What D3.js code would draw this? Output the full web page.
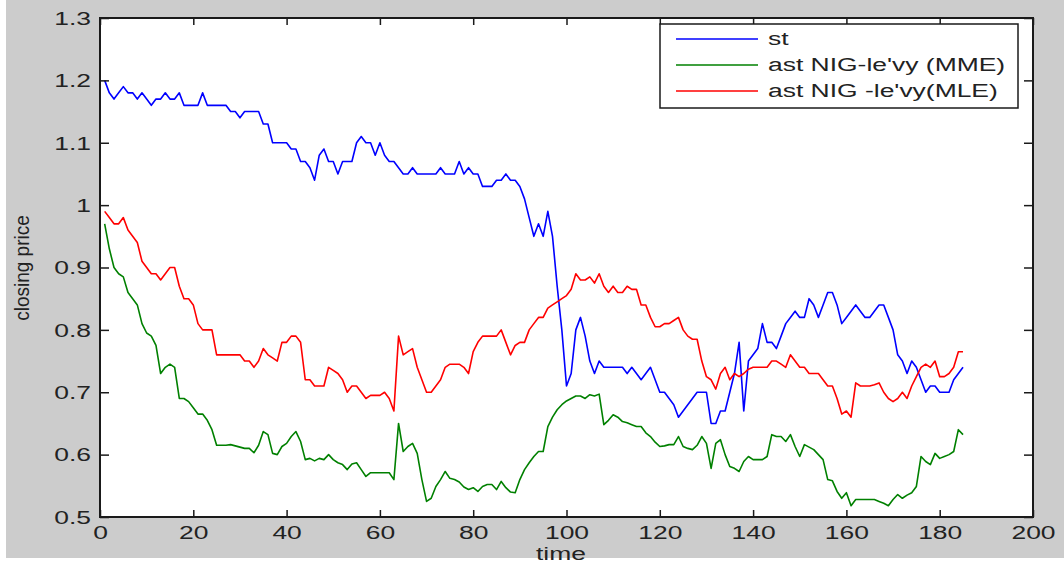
<!DOCTYPE html>
<html>
<head>
<meta charset="utf-8">
<script src="https://cdn.jsdelivr.net/npm/d3@7"></script>
<style>
  body { margin: 0; background: #fff; }
  svg { display: block; }
</style>
</head>
<body>
<svg id="chart"></svg>
<script>
'use strict';

// tick values
const xTicks = [0, 20, 40, 60, 80, 100, 120, 140, 160, 180, 200];
const yTicks = [0.5, 0.6, 0.7, 0.8, 0.9, 1, 1.1, 1.2, 1.3];

// legend names
const seriesNames = ["st", "ast NIG-le'vy (MME)", "ast NIG -le'vy(MLE)"];

// closing price, time = 1..185
const stValues = [
  1.20, 1.18, 1.17, 1.18, 1.19, 1.18, 1.18, 1.17, 1.18, 1.17,
  1.16, 1.17, 1.17, 1.18, 1.17, 1.17, 1.18, 1.16, 1.16, 1.16,
  1.16, 1.18, 1.16, 1.16, 1.16, 1.16, 1.16, 1.15, 1.15, 1.14,
  1.15, 1.15, 1.15, 1.15, 1.13, 1.13, 1.10, 1.10, 1.10, 1.10,
  1.09, 1.09, 1.07, 1.07, 1.06, 1.04, 1.08, 1.09, 1.07, 1.07,
  1.05, 1.07, 1.07, 1.07, 1.10, 1.11, 1.10, 1.10, 1.08, 1.10,
  1.08, 1.07, 1.07, 1.06, 1.05, 1.05, 1.06, 1.05, 1.05, 1.05,
  1.05, 1.05, 1.06, 1.05, 1.05, 1.05, 1.07, 1.05, 1.06, 1.05,
  1.05, 1.03, 1.03, 1.03, 1.04, 1.04, 1.05, 1.04, 1.04, 1.03,
  1.01, 0.98, 0.95, 0.97, 0.95, 0.99, 0.95, 0.87, 0.80, 0.71,
  0.73, 0.80, 0.82, 0.79, 0.75, 0.73, 0.75, 0.74, 0.74, 0.74,
  0.74, 0.74, 0.73, 0.74, 0.73, 0.72, 0.73, 0.74, 0.72, 0.70,
  0.70, 0.69, 0.68, 0.66, 0.67, 0.68, 0.69, 0.70, 0.70, 0.70,
  0.65, 0.65, 0.67, 0.67, 0.70, 0.73, 0.78, 0.67, 0.75, 0.76,
  0.77, 0.81, 0.78, 0.78, 0.77, 0.79, 0.81, 0.82, 0.83, 0.82,
  0.82, 0.85, 0.84, 0.82, 0.84, 0.86, 0.86, 0.84, 0.81, 0.82,
  0.83, 0.84, 0.83, 0.82, 0.82, 0.83, 0.84, 0.84, 0.82, 0.80,
  0.76, 0.75, 0.73, 0.75, 0.74, 0.72, 0.70, 0.71, 0.71, 0.70,
  0.70, 0.70, 0.72, 0.73, 0.74
];

const mmeValues = [
  0.97, 0.93, 0.90, 0.89, 0.885, 0.86, 0.85, 0.84, 0.81, 0.795,
  0.79, 0.775, 0.73, 0.74, 0.745, 0.74, 0.69, 0.69, 0.685, 0.675,
  0.665, 0.665, 0.655, 0.64, 0.615, 0.615, 0.615, 0.616, 0.614, 0.612,
  0.61, 0.61, 0.603, 0.615, 0.637, 0.632, 0.602, 0.60, 0.613, 0.618,
  0.629, 0.637, 0.621, 0.592, 0.594, 0.59, 0.594, 0.592, 0.60, 0.592,
  0.587, 0.584, 0.576, 0.585, 0.587, 0.576, 0.565, 0.571, 0.571, 0.571,
  0.571, 0.571, 0.56, 0.65, 0.605, 0.613, 0.618, 0.602, 0.56, 0.525,
  0.53, 0.549, 0.56, 0.573, 0.562, 0.56, 0.556, 0.548, 0.544, 0.547,
  0.541, 0.549, 0.552, 0.552, 0.544, 0.557, 0.547, 0.54, 0.539, 0.56,
  0.576, 0.587, 0.597, 0.605, 0.605, 0.645, 0.66, 0.672, 0.68, 0.686,
  0.69, 0.694, 0.694, 0.69, 0.696, 0.694, 0.697, 0.648, 0.655, 0.664,
  0.66, 0.653, 0.651, 0.648, 0.645, 0.645, 0.635, 0.629, 0.62, 0.613,
  0.614, 0.616, 0.616, 0.629, 0.613, 0.61, 0.608, 0.615, 0.629, 0.618,
  0.578, 0.618, 0.624, 0.60, 0.581, 0.578, 0.573, 0.589, 0.597, 0.592,
  0.592, 0.592, 0.597, 0.632, 0.629, 0.629, 0.621, 0.632, 0.613, 0.597,
  0.616, 0.612, 0.608, 0.60, 0.592, 0.56, 0.558, 0.541, 0.53, 0.539,
  0.518, 0.528, 0.528, 0.528, 0.528, 0.528, 0.525, 0.522, 0.518, 0.528,
  0.536, 0.53, 0.535, 0.539, 0.549, 0.597, 0.589, 0.584, 0.602, 0.594,
  0.597, 0.60, 0.605, 0.64, 0.632
];

const mleValues = [
  0.99, 0.98, 0.97, 0.97, 0.98, 0.96, 0.95, 0.94, 0.91, 0.90,
  0.89, 0.89, 0.88, 0.89, 0.90, 0.90, 0.87, 0.85, 0.85, 0.84,
  0.81, 0.80, 0.80, 0.80, 0.76, 0.76, 0.76, 0.76, 0.76, 0.76,
  0.75, 0.75, 0.74, 0.75, 0.77, 0.76, 0.755, 0.75, 0.78, 0.78,
  0.79, 0.79, 0.78, 0.72, 0.72, 0.71, 0.71, 0.71, 0.74, 0.735,
  0.73, 0.72, 0.70, 0.71, 0.71, 0.70, 0.69, 0.695, 0.695, 0.695,
  0.70, 0.69, 0.67, 0.79, 0.76, 0.765, 0.77, 0.74, 0.72, 0.70,
  0.70, 0.71, 0.72, 0.74, 0.745, 0.745, 0.745, 0.74, 0.73, 0.765,
  0.78, 0.79, 0.79, 0.79, 0.79, 0.80, 0.78, 0.76, 0.775, 0.78,
  0.78, 0.80, 0.81, 0.82, 0.82, 0.835, 0.84, 0.845, 0.85, 0.855,
  0.865, 0.89, 0.88, 0.88, 0.885, 0.875, 0.89, 0.87, 0.86, 0.87,
  0.86, 0.86, 0.87, 0.865, 0.865, 0.84, 0.84, 0.82, 0.805, 0.805,
  0.81, 0.81, 0.815, 0.82, 0.80, 0.79, 0.785, 0.785, 0.75, 0.725,
  0.72, 0.705, 0.73, 0.74, 0.72, 0.73, 0.725, 0.73, 0.737, 0.74,
  0.74, 0.74, 0.74, 0.75, 0.75, 0.745, 0.74, 0.76, 0.75, 0.74,
  0.74, 0.73, 0.73, 0.73, 0.72, 0.71, 0.71, 0.69, 0.665, 0.67,
  0.66, 0.715, 0.71, 0.71, 0.71, 0.712, 0.715, 0.70, 0.69, 0.685,
  0.69, 0.70, 0.69, 0.71, 0.725, 0.74, 0.745, 0.74, 0.75, 0.725,
  0.725, 0.73, 0.74, 0.765, 0.765
];

// layout & style
const CONFIG = {
  width: 1064,
  height: 569,
  frame: { x: 6, y: 0, w: 1058, h: 558 },
  plot: { left: 100, top: 18, right: 1033, bottom: 517 },
  stretch: 1.47,          // picture is widened horizontally
  fontSize: 18,
  textColor: "#222",
  axisColor: "#1a1a1a",
  colors: ["#0000ff", "#008000", "#ff0000"],
  legend: { x: 660, y: 24, w: 358, h: 84, row0: 39, rowStep: 26, lineX1: 676, lineX2: 758, textX: 768 }
};

const svg = d3.select("#chart")
  .attr("width", CONFIG.width)
  .attr("height", CONFIG.height)
  .style("font-family", "'Liberation Sans', Arial, sans-serif");

// gray figure background
svg.append("rect")
  .attr("x", CONFIG.frame.x).attr("y", CONFIG.frame.y)
  .attr("width", CONFIG.frame.w).attr("height", CONFIG.frame.h)
  .attr("fill", "#cccccc");

const p = CONFIG.plot;
svg.append("rect")
  .attr("x", p.left).attr("y", p.top)
  .attr("width", p.right - p.left).attr("height", p.bottom - p.top)
  .attr("fill", "#fff");

const x = d3.scaleLinear().domain([0, 200]).range([p.left, p.right]);
const y = d3.scaleLinear().domain([0.5, 1.3]).range([p.bottom, p.top]);

// series lines
const line = d3.line()
  .x((d, i) => x(i + 1))
  .y(d => y(d));

[stValues, mmeValues, mleValues].forEach((vals, k) => {
  svg.append("path")
    .datum(vals)
    .attr("fill", "none")
    .attr("stroke", CONFIG.colors[k])
    .attr("stroke-width", 1.6)
    .attr("stroke-linejoin", "round")
    .attr("d", line);
});

// axes, ticks pointing inward like matlab
function styleAxis(g) {
  g.select(".domain").remove();
  g.selectAll("line").attr("stroke", CONFIG.axisColor).attr("stroke-width", 1.5);
  g.selectAll("text")
    .attr("fill", CONFIG.textColor)
    .style("font-size", CONFIG.fontSize + "px");
}

const xAxis = svg.append("g")
  .attr("transform", `translate(0,${p.bottom})`)
  .call(d3.axisBottom(x).tickValues(xTicks).tickSize(-7).tickPadding(0).tickFormat(d3.format("d")))
  .call(styleAxis);
xAxis.selectAll("text")
  .attr("y", 0)
  .attr("dy", 0)
  .attr("transform", `translate(0,22) scale(${CONFIG.stretch},1)`);

const yAxis = svg.append("g")
  .attr("transform", `translate(${p.left},0)`)
  .call(d3.axisLeft(y).tickValues(yTicks).tickSize(-9).tickPadding(0).tickFormat(d => d3.format("")(+d.toFixed(1))))
  .call(styleAxis);
yAxis.selectAll("text")
  .attr("x", 0)
  .attr("dy", "0.35em")
  .attr("transform", `translate(-9,0) scale(${CONFIG.stretch},1)`);

svg.append("g")
  .attr("transform", `translate(0,${p.top})`)
  .call(d3.axisTop(x).tickValues(xTicks).tickSize(-7).tickFormat(""))
  .call(styleAxis);

svg.append("g")
  .attr("transform", `translate(${p.right},0)`)
  .call(d3.axisRight(y).tickValues(yTicks).tickSize(-9).tickFormat(""))
  .call(styleAxis);

// box
svg.append("rect")
  .attr("x", p.left).attr("y", p.top)
  .attr("width", p.right - p.left).attr("height", p.bottom - p.top)
  .attr("fill", "none")
  .attr("stroke", CONFIG.axisColor)
  .attr("stroke-width", 2);

// axis labels
svg.append("text")
  .attr("transform", `translate(561,560) scale(${CONFIG.stretch},1)`)
  .attr("text-anchor", "middle")
  .attr("fill", CONFIG.textColor)
  .style("font-size", CONFIG.fontSize + "px")
  .text("time");

svg.append("text")
  .attr("transform", "translate(29,268) rotate(-90) scale(1,1.1)")
  .attr("text-anchor", "middle")
  .attr("fill", CONFIG.textColor)
  .style("font-size", "19px")
  .text("closing price");

// legend
const L = CONFIG.legend;
const legend = svg.append("g");
legend.append("rect")
  .attr("x", L.x).attr("y", L.y)
  .attr("width", L.w).attr("height", L.h)
  .attr("fill", "#fff")
  .attr("stroke", CONFIG.axisColor)
  .attr("stroke-width", 1.5);

const item = legend.selectAll(".item")
  .data(seriesNames)
  .enter()
  .append("g")
  .attr("class", "item")
  .attr("transform", (d, i) => `translate(0,${L.row0 + i * L.rowStep})`);

item.append("line")
  .attr("x1", L.lineX1).attr("x2", L.lineX2)
  .attr("stroke", (d, i) => CONFIG.colors[i])
  .attr("stroke-width", 1.5);

item.append("text")
  .attr("transform", `translate(${L.textX},6) scale(${CONFIG.stretch},1)`)
  .attr("fill", CONFIG.textColor)
  .style("font-size", CONFIG.fontSize + "px")
  .text(d => d);
</script>
</body>
</html>
